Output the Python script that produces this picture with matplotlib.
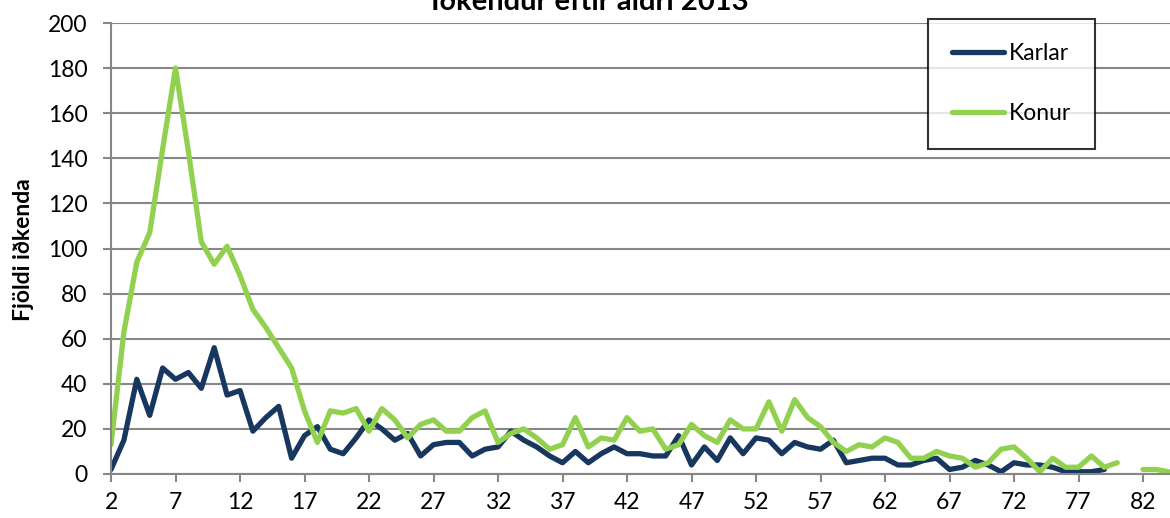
import numpy as np
import matplotlib.pyplot as plt

# ages 2..84, missing values as nan
ages = np.arange(2, 85)

karlar = [2, 15, 42, 26, 47, 42, 45, 38, 56, 35,
          37, 19, 25, 30, 7, 17, 21, 11, 9, 16,
          24, 20, 15, 18, 8, 13, 14, 14, 8, 11,
          12, 19, 15, 12, 8, 5, 10, 5, 9, 12,
          9, 9, 8, 8, 17, 4, 12, 6, 16, 9,
          16, 15, 9, 14, 12, 11, 15, 5, 6, 7,
          7, 4, 4, 6, 7, 2, 3, 6, 4, 1,
          5, 4, 4, 3, 1, 1, 1, 2,
          np.nan, np.nan, np.nan, np.nan, np.nan]

konur = [13, 63, 94, 107, 144, 180, 143, 103, 93, 101,
         88, 73, 65, 56, 47, 28, 14, 28, 27, 29,
         19, 29, 24, 16, 22, 24, 19, 19, 25, 28,
         14, 18, 20, 16, 11, 13, 25, 12, 16, 15,
         25, 19, 20, 11, 13, 22, 17, 14, 24, 20,
         20, 32, 19, 33, 25, 21, 14, 10, 13, 12,
         16, 14, 7, 7, 10, 8, 7, 3, 5, 11,
         12, 7, 1, 7, 3, 3, 8, 3, 5, np.nan,
         2, 2, 1]

plt.rcParams['font.family'] = ['Lato', 'DejaVu Sans']
grey = '#878787'

fig = plt.figure(figsize=(11.7, 5.18), dpi=100)
ax = fig.add_axes([111 / 1170, 1 - 474 / 518, 1 - 111 / 1170, 451 / 518])

ax.plot(ages, karlar, color='#17375E', lw=3.8, label='Karlar',
        solid_joinstyle='round', solid_capstyle='round')
ax.plot(ages, konur, color='#92D050', lw=3.8, label='Konur',
        solid_joinstyle='round', solid_capstyle='round')

ax.set_xlim(2, 2 + 1059 / 12.9)
ax.set_ylim(0, 200)
ax.set_yticks(np.arange(0, 201, 20))
ax.set_xticks(np.arange(2, 85, 5))
ax.grid(axis='y', color=grey, lw=1.5)
ax.set_axisbelow(True)

for s in ('top', 'right'):
    ax.spines[s].set_visible(False)
for s in ('left', 'bottom'):
    ax.spines[s].set_color(grey)
    ax.spines[s].set_linewidth(1.5)
ax.tick_params(axis='both', color=grey, width=1.5, length=6,
               labelsize=16.5, direction='out')
ax.tick_params(axis='x', pad=7)
ax.tick_params(axis='y', pad=11)

fig.text(23 / 1170, 0.519, 'Fjöldi iðkenda', rotation=90, fontsize=16.5,
         fontweight='bold', ha='center', va='center')
# title sits mostly above the top edge, as in the source image
fig.text(590 / 1170, 1 - 10 / 518, 'Iðkendur eftir aldri 2013', fontsize=21,
         fontweight='bold', ha='center', va='baseline')

leg = ax.legend(loc='upper left', bbox_to_anchor=(928 / 1170, 1 - 19 / 518),
                bbox_transform=fig.transFigure, fontsize=16.5, frameon=True,
                fancybox=False, handlelength=2.25, handletextpad=0.22,
                labelspacing=1.72, borderpad=1.05, borderaxespad=0)
leg.get_frame().set_edgecolor('black')
leg.get_frame().set_linewidth(1.5)

fig.savefig('out.png', dpi=100)
